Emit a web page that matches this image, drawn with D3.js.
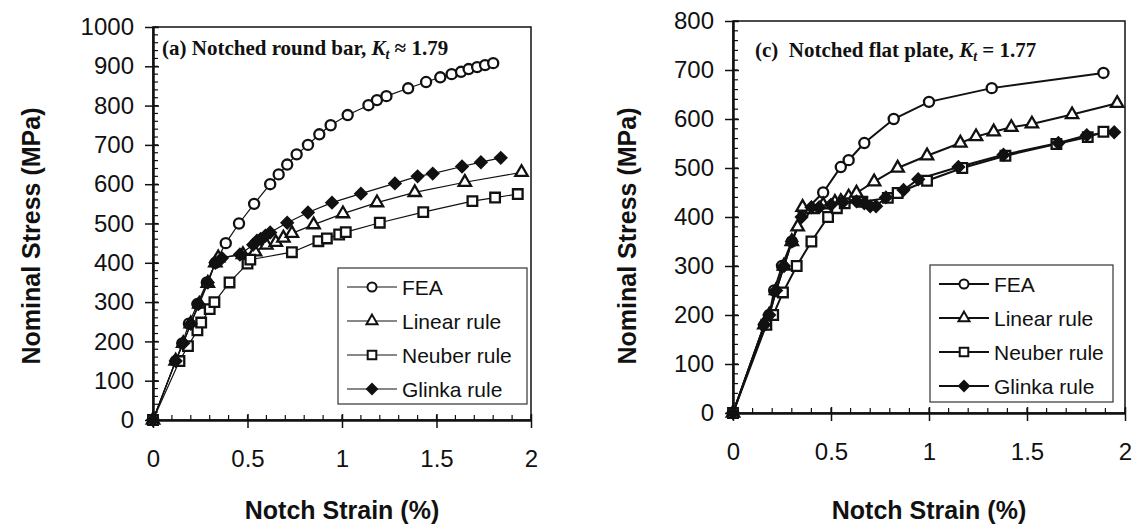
<!DOCTYPE html>
<html lang="en">
<head>
  <meta charset="UTF-8">
  <title>Nominal Stress vs Notch Strain</title>
  <script src="https://d3js.org/d3.v7.min.js"></script>
  <style>
    body { margin: 0; background: #fff; }
    svg { display: block; }
    .tick-label { font-family: "Liberation Sans", Arial, sans-serif; font-size: 24px; fill: #111; }
    .axis-title { font-family: "Liberation Sans", Arial, sans-serif; font-size: 25px; font-weight: bold; fill: #111; }
    .panel-title { font-family: "Liberation Serif", "Times New Roman", serif; font-size: 21px; font-weight: bold; fill: #111; }
    .legend-text { font-family: "Liberation Sans", Arial, sans-serif; font-size: 21px; fill: #111; }
  </style>
</head>
<body>
  <div id="chart"></div>

  <script>
    // strain in %, stress in MPa
    const seriesNames = ["FEA", "Linear rule", "Neuber rule", "Glinka rule"];
    const strainTicks = [0, 0.5, 1, 1.5, 2];
    const stressTicksA = [0, 100, 200, 300, 400, 500, 600, 700, 800, 900, 1000];
    const stressTicksC = [0, 100, 200, 300, 400, 500, 600, 700, 800];

    // (a) notched round bar
    const feaA = [[0,0],[0.12,150],[0.155,195],[0.19,245],[0.235,295],[0.285,350],[0.33,400],[0.385,450],
      [0.455,500],[0.535,550],[0.62,600],[0.665,625],[0.71,650],[0.76,676],[0.82,700],[0.88,727],[0.94,750],
      [1.03,776],[1.14,801],[1.185,814],[1.235,824],[1.35,844],[1.445,860],[1.52,872],[1.58,880],[1.63,886],
      [1.67,893],[1.715,898],[1.757,903],[1.80,908]];
    const linearA = [[0,0],[0.12,150],[0.16,195],[0.2,245],[0.245,295],[0.29,348],[0.33,400],[0.345,413],
      [0.476,421],[0.54,428],[0.6,445],[0.65,452],[0.69,463],[0.735,475],[0.85,497],[1.005,525],[1.185,553],
      [1.385,579],[1.65,605],[1.95,630]];
    const neuberA = [[0,0],[0.14,150],[0.185,188],[0.235,228],[0.255,248],[0.3,282],[0.325,300],[0.405,350],
      [0.5,398],[0.515,408],[0.735,427],[0.875,455],[0.92,462],[0.985,472],[1.02,478],[1.2,502],[1.43,529],
      [1.69,557],[1.81,566],[1.93,575]];
    const glinkaA = [[0,0],[0.12,150],[0.16,195],[0.2,245],[0.24,295],[0.29,350],[0.33,400],[0.365,412],
      [0.46,421],[0.53,446],[0.55,456],[0.57,461],[0.595,469],[0.62,477],[0.71,502],[0.82,528],[0.947,553],
      [1.1,576],[1.28,602],[1.4,620],[1.48,627],[1.635,645],[1.735,656],[1.84,667]];

    // (c) notched flat plate
    const feaC = [[0,0],[0.16,180],[0.185,200],[0.21,250],[0.25,300],[0.3,350],[0.36,410],[0.46,450],
      [0.55,502],[0.59,516],[0.67,551],[0.82,600],[1.0,635],[1.32,663],[1.89,694]];
    const linearC = [[0,0],[0.16,180],[0.185,200],[0.22,250],[0.26,300],[0.3,350],[0.33,380],[0.355,420],
      [0.4,415],[0.46,425],[0.52,430],[0.55,432],[0.59,441],[0.63,449],[0.72,472],[0.84,500],[0.99,525],
      [1.16,551],[1.24,564],[1.33,574],[1.42,583],[1.525,590],[1.73,609],[1.96,632]];
    const neuberC = [[0,0],[0.17,180],[0.205,200],[0.255,246],[0.325,300],[0.4,350],[0.485,400],[0.53,418],
      [0.57,428],[0.66,431],[0.79,439],[0.84,449],[0.99,474],[1.17,500],[1.39,525],[1.65,549],[1.81,563],
      [1.89,574]];
    const glinkaC = [[0,0],[0.16,180],[0.185,200],[0.22,250],[0.26,300],[0.3,350],[0.35,400],[0.4,420],
      [0.44,420],[0.5,425],[0.56,430],[0.63,432],[0.67,428],[0.7,422],[0.73,422],[0.78,440],[0.87,455],
      [0.945,477],[1.15,502],[1.38,527],[1.66,551],[1.805,567],[1.945,573]];

    const svg = d3.select("#chart").append("svg")
      .attr("width", 1133)
      .attr("height", 529);

    const symbols = [
      {type: d3.symbolCircle, size: 80, fill: "#fff", rot: 0},
      {type: d3.symbolTriangle, size: 66, fill: "#fff", rot: 0},
      {type: d3.symbolSquare, size: 92, fill: "#fff", rot: 0},
      {type: d3.symbolSquare, size: 62, fill: "#111", rot: 45}
    ];

    function drawPanel(p) {
      const x = d3.scaleLinear().domain([0, 2]).range([p.left, p.right]);
      const y = d3.scaleLinear().domain([0, p.yMax]).range([p.bottom, p.top]);
      const g = svg.append("g");

      // frame
      g.append("rect")
        .attr("x", p.left).attr("y", p.top)
        .attr("width", p.right - p.left).attr("height", p.bottom - p.top)
        .attr("fill", "none").attr("stroke", "#111").attr("stroke-width", 1.5);

      // minor ticks (inside)
      const yMinor = d3.range(0, p.yMax + 1, 20);
      g.selectAll(".ymin").data(yMinor).enter().append("line")
        .attr("x1", p.left).attr("x2", p.left + 5)
        .attr("y1", d => y(d)).attr("y2", d => y(d))
        .attr("stroke", "#111").attr("stroke-width", 1.2);
      const xMinor = d3.range(0, 21).map(i => i / 10);
      g.selectAll(".xmin").data(xMinor).enter().append("line")
        .attr("x1", d => x(d)).attr("x2", d => x(d))
        .attr("y1", p.bottom).attr("y2", p.bottom - 5)
        .attr("stroke", "#111").attr("stroke-width", 1.2);

      // axes
      const yAxis = d3.axisLeft(y).tickValues(p.yTicks).tickFormat(d3.format("d"))
        .tickSize(8).tickPadding(11).tickSizeOuter(0);
      const ga = g.append("g").attr("transform", `translate(${p.left},0)`).call(yAxis);
      const xAxis = d3.axisBottom(x).tickValues(strainTicks).tickFormat(d3.format(""))
        .tickSize(8).tickPadding(22).tickSizeOuter(0);
      const gb = g.append("g").attr("transform", `translate(0,${p.bottom})`).call(xAxis);
      [ga, gb].forEach(a => {
        a.select(".domain").attr("stroke", "#111").attr("stroke-width", 2.5);
        a.selectAll(".tick line").attr("stroke", "#111").attr("stroke-width", 1.5);
        a.selectAll(".tick text").attr("class", "tick-label").attr("font-size", null).attr("font-family", null);
      });
      ga.selectAll(".tick line").attr("x2", -8).attr("x1", 6);
      gb.selectAll(".tick line").attr("y2", 8).attr("y1", -6);

      // series
      const allSeries = [p.fea, p.linear, p.neuber, p.glinka];
      const line = d3.line().x(d => x(d[0])).y(d => y(d[1]));
      allSeries.forEach(data => {
        g.append("path").datum(data)
          .attr("d", line)
          .attr("fill", "none").attr("stroke", "#111").attr("stroke-width", p.lineW);
      });
      allSeries.forEach((data, i) => {
        const s = symbols[i];
        g.selectAll(".m" + i).data(data).enter().append("path")
          .attr("d", d3.symbol().type(s.type).size(s.size))
          .attr("transform", d => `translate(${x(d[0])},${y(d[1])}) rotate(${s.rot})`)
          .attr("fill", s.fill).attr("stroke", "#111").attr("stroke-width", 2.3);
      });

      // title
      const t = g.append("text").attr("class", "panel-title")
        .attr("x", p.titleX).attr("y", p.titleY)
        .attr("xml:space", "preserve");
      t.append("tspan").text(p.titleText);
      t.append("tspan").attr("font-style", "italic").text("K");
      t.append("tspan").attr("font-style", "italic").attr("font-size", "14px").attr("dy", 4).text("t");
      t.append("tspan").attr("dy", -4).text(" " + p.titleEq + " " + p.kt);

      // legend
      const lg = g.append("g");
      lg.append("rect")
        .attr("x", p.legX).attr("y", p.legY).attr("width", p.legW).attr("height", p.legH)
        .attr("fill", "#fff").attr("stroke", "#333").attr("stroke-width", 1.2);
      seriesNames.forEach((name, i) => {
        const yy = p.legY + 19 + i * 34;
        lg.append("line")
          .attr("x1", p.legX + 9).attr("x2", p.legX + 59)
          .attr("y1", yy).attr("y2", yy)
          .attr("stroke", "#111").attr("stroke-width", p.lineW);
        const s = symbols[i];
        lg.append("path")
          .attr("d", d3.symbol().type(s.type).size(s.size * 0.8))
          .attr("transform", `translate(${p.legX + 34},${yy}) rotate(${s.rot})`)
          .attr("fill", s.fill).attr("stroke", "#111").attr("stroke-width", 2);
        lg.append("text").attr("class", "legend-text")
          .attr("x", p.legX + 64).attr("y", yy + 8).text(name);
      });

      // axis titles
      g.append("text").attr("class", "axis-title")
        .attr("text-anchor", "middle")
        .attr("x", (p.left + p.right) / 2).attr("y", 519)
        .text("Notch Strain (%)");
      g.append("text").attr("class", "axis-title")
        .attr("text-anchor", "middle")
        .attr("transform", `translate(${p.yTitleX},${p.yTitleY}) rotate(-90)`)
        .text("Nominal Stress (MPa)");
    }

    drawPanel({
      left: 153, right: 531, top: 27, bottom: 420, yMax: 1000, yTicks: stressTicksA,
      fea: feaA, linear: linearA, neuber: neuberA, glinka: glinkaA, lineW: 1.2,
      titleX: 162, titleY: 55, titleText: "(a) Notched round bar, ", titleEq: "\u2248", kt: "1.79",
      legX: 338, legY: 268, legW: 189, legH: 136,
      yTitleX: 40, yTitleY: 236
    });

    drawPanel({
      left: 733, right: 1125, top: 21, bottom: 413, yMax: 800, yTicks: stressTicksC,
      fea: feaC, linear: linearC, neuber: neuberC, glinka: glinkaC, lineW: 2,
      titleX: 755, titleY: 57, titleText: "(c)  Notched flat plate, ", titleEq: "=", kt: "1.77",
      legX: 930, legY: 265, legW: 183, legH: 137,
      yTitleX: 636, yTitleY: 236
    });
  </script>
</body>
</html>
